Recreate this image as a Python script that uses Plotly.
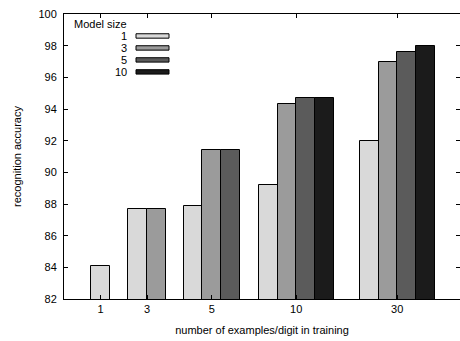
import plotly.graph_objects as go

# ---- data ----
categories = ["1", "3", "5", "10", "30"]          # examples/digit in training
model_sizes = ["1", "3", "5", "10"]
acc_size1 = [84.1, 87.7, 87.9, 89.2, 92.0]
acc_size3 = [None, 87.7, 91.4, 94.3, 97.0]
acc_size5 = [None, None, 91.4, 94.7, 97.6]
acc_size10 = [None, None, None, 94.7, 98.0]
y_ticks = [82, 84, 86, 88, 90, 92, 94, 96, 98, 100]

# ---- layout helpers (cluster centres on x axis, in bar-width units) ----
cluster_pos = [1.96, 4.45, 7.91, 12.43, 17.84]
x_range = [0, 21.2]
colors = ["#d9d9d9", "#9b9b9b", "#5b5b5b", "#1b1b1b"]
series = [acc_size1, acc_size3, acc_size5, acc_size10]

FONT = "Liberation Sans, Arial, Helvetica, sans-serif"

fig = go.Figure()

n_present = [sum(1 for s in series if s[i] is not None) for i in range(len(categories))]

for si, (s, col, name) in enumerate(zip(series, colors, model_sizes)):
    xs, ys = [], []
    for ci, v in enumerate(s):
        if v is None:
            continue
        n = n_present[ci]
        xs.append(cluster_pos[ci] + (si - (n - 1) / 2.0))
        ys.append(v)
    fig.add_trace(go.Bar(
        x=xs, y=ys, width=1.0, name=name,
        marker=dict(color=col, line=dict(color="#000000", width=1)),
        showlegend=False,
    ))

L, T, R, B = 64, 14, 0, 41.5
W, H = 460, 341
pw, ph = W - L - R, H - T - B

def px2paper(px, py):
    return (px - L) / pw, (H - B - py) / ph

ann = []
shapes = []
tx, ty = px2paper(72, 24)
ann.append(dict(x=tx, y=ty, xref="paper", yref="paper", text="Model size",
                showarrow=False, xanchor="left", yanchor="middle",
                font=dict(family=FONT, size=11, color="#000")))
for i, (name, col) in enumerate(zip(model_sizes, colors)):
    py = 36 + i * 12
    lx, ly = px2paper(129, py)
    ann.append(dict(x=lx, y=ly, xref="paper", yref="paper", text=name,
                    showarrow=False, xanchor="right", yanchor="middle",
                    font=dict(family=FONT, size=11, color="#000")))
    x0, y0 = px2paper(136, py - 2.2)
    x1, y1 = px2paper(169, py + 2.2)
    shapes.append(dict(type="rect", xref="paper", yref="paper",
                       x0=x0, x1=x1, y0=y1, y1=y0,
                       fillcolor=col, line=dict(color="#000", width=1)))

fig.update_layout(
    width=W, height=H,
    margin=dict(l=L, r=R, t=T, b=B, autoexpand=False),
    paper_bgcolor="white", plot_bgcolor="white",
    bargap=0,
    font=dict(family=FONT, size=11, color="#000"),
    annotations=ann, shapes=shapes,
)
fig.update_xaxes(
    range=x_range, tickmode="array", tickvals=cluster_pos, ticktext=categories,
    ticks="inside", ticklen=4, tickcolor="#000",
    showline=True, linecolor="#000", linewidth=1, mirror="ticks",
    showgrid=False, zeroline=False, automargin=False,
    tickfont=dict(family=FONT, size=11),
    title=dict(text="number of examples/digit in training", font=dict(family=FONT, size=11), standoff=12),
)
fig.update_yaxes(
    range=[82, 100], tickmode="array", tickvals=y_ticks,
    ticktext=[str(t) for t in y_ticks],
    ticks="inside", ticklen=4, tickcolor="#000",
    showline=True, linecolor="#000", linewidth=1, mirror="ticks",
    showgrid=False, zeroline=False, automargin=False,
    tickfont=dict(family=FONT, size=11),
    ticklabelstandoff=4,
    title=dict(text="recognition accuracy", font=dict(family=FONT, size=11), standoff=14),
)

fig.write_html("out.html", config={"displayModeBar": False},
               post_script="document.body.style.margin='0';document.body.style.padding='0';")
